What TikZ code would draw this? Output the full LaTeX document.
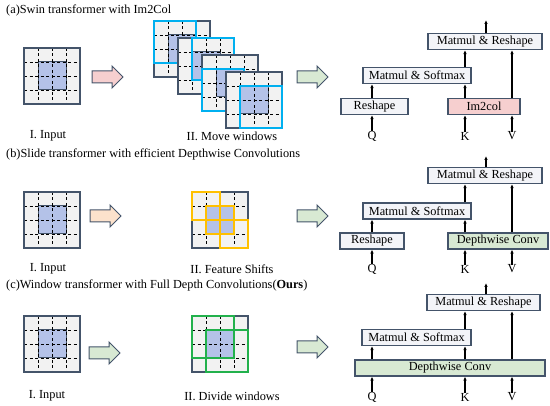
\documentclass[tikz,border=0pt]{standalone}
\usepackage{fontspec}
\setmainfont{Liberation Serif}
\usetikzlibrary{arrows.meta}
\definecolor{navy}{HTML}{44546A}
\definecolor{cellgray}{HTML}{F2F2F2}
\definecolor{bluefill}{HTML}{B4C2E8}
\definecolor{cyanw}{HTML}{00B0F0}
\definecolor{yelw}{HTML}{FFC000}
\definecolor{grnw}{HTML}{22B14C}
\definecolor{boxfill}{HTML}{F3F4F8}
\definecolor{pinkfill}{HTML}{F6CFCF}
\definecolor{greenfill}{HTML}{D8E9D3}
\definecolor{peachfill}{HTML}{FCE2CC}
\newcommand{\mygrid}[2]{%
  \fill[cellgray] (#1,#2) rectangle ++(56,56);
  \fill[bluefill] ({#1+14},{#2+14}) rectangle ++(28,28);
  \draw[navy,line width=1pt] ({#1+14},{#2+14}) rectangle ++(28,28);
  \foreach \i in {1,2,3}{%
    \draw[black,line width=0.7pt,dash pattern=on 3pt off 2.5pt] ({#1+14*\i},#2) -- ++(0,56);
    \draw[black,line width=0.7pt,dash pattern=on 3pt off 2.5pt] (#1,{#2+14*\i}) -- ++(56,0);
  }
  \draw[navy,line width=1.2pt] (#1,#2) rectangle ++(56,56);
}
\newcommand{\bigarrow}[3]{%
  \draw[navy,line width=1pt,fill=#3] (#1,{#2-6}) -- ({#1+20},{#2-6}) -- ({#1+20},{#2-11}) -- ({#1+31},#2) -- ({#1+20},{#2+11}) -- ({#1+20},{#2+6}) -- (#1,{#2+6}) -- cycle;
}
\tikzset{
  opbox/.style={draw=navy,line width=1.1pt,fill=boxfill,minimum height=16pt,inner sep=0pt,font=\fontsize{12.3}{13}\selectfont},
  lab/.style={font=\fontsize{12.3}{13}\selectfont,inner sep=0pt},
  ttl/.style={font=\fontsize{12.3}{13}\selectfont,inner sep=0pt,anchor=west},
  arr/.style={-{Latex[length=4pt,width=3.5pt]},line width=1.1pt,black},
  win/.style={line width=1.3pt},
}
\begin{document}
\begin{tikzpicture}[x=1pt,y=-1pt]
\useasboundingbox (0,0) rectangle (550,406);
% ---------------- (a)
\node[ttl] (ta) at (6,10) {(a)Swin transformer with Im2Col};
\mygrid{24}{48}
\bigarrow{92}{77}{pinkfill}
\mygrid{154}{21}
\draw[win,cyanw] (154,21) rectangle ++(42,42);
\mygrid{178}{38}
\draw[win,cyanw] (192,38) rectangle ++(42,42);
\mygrid{202}{55}
\draw[win,cyanw] (202,69) rectangle ++(42,42);
\mygrid{226}{72}
\draw[win,cyanw] (240,86) rectangle ++(42,42);
\node[lab] (ia) at (48,136) {I. Input};
\node[lab] (ma) at (232,136) {II. Move windows};
\bigarrow{297}{77}{greenfill}
\node[opbox,minimum width=67pt] (rsa) at (374.5,106.5) {Reshape};
\node[opbox,minimum width=72pt,fill=pinkfill] (ima) at (484,106.5) {Im2col};
\node[opbox,minimum width=108pt] (sma) at (417,75.5) {Matmul \& Softmax};
\node[opbox,minimum width=114pt] (mra) at (485,41.5) {Matmul \& Reshape};
\node[lab] (qa) at (372,136) {Q};
\node[lab] (ka) at (465,136) {K};
\node[lab] (va) at (512,136) {V};
\coordinate (oa) at (486,20);
\draw[arr] (qa) -- (rsa.south -| qa);
\draw[arr] (rsa.north -| qa) -- (sma.south -| qa);
\draw[arr] (ka) -- (ima.south -| ka);
\draw[arr] (va) -- (ima.south -| va);
\draw[arr] (ima.north -| ka) -- (sma.south -| ka);
\draw[arr] (sma.north -| ka) -- (mra.south -| ka);
\draw[arr] (ima.north -| va) -- (mra.south -| va);
\draw[arr] (mra.north -| oa) -- (oa);
% ---------------- (b)
\node[ttl] (tb) at (6,154) {(b)Slide transformer with efficient Depthwise Convolutions};
\mygrid{24}{192}
\bigarrow{90}{216}{peachfill}
\mygrid{192}{192}
\draw[win,yelw] (192,192) rectangle ++(28,28);
\draw[win,yelw] (206,206) rectangle ++(28,28);
\draw[win,yelw] (220,220) rectangle ++(28,28);
\node[lab] (ib) at (48,269) {I. Input};
\node[lab] (fb) at (232,269) {II. Feature Shifts};
\bigarrow{297}{216}{greenfill}
\node[opbox,minimum width=64pt] (rsb) at (372,241) {Reshape};
\node[opbox,minimum width=100pt,fill=greenfill] (dcb) at (498,241) {Depthwise Conv};
\node[opbox,minimum width=108pt] (smb) at (417,211) {Matmul \& Softmax};
\node[opbox,minimum width=114pt] (mrb) at (485,175.5) {Matmul \& Reshape};
\node[lab] (qb) at (372,269) {Q};
\node[lab] (kb) at (465,269) {K};
\node[lab] (vb) at (512,269) {V};
\coordinate (ob) at (486,156);
\draw[arr] (qb) -- (rsb.south -| qb);
\draw[arr] (rsb.north -| qb) -- (smb.south -| qb);
\draw[arr] (kb) -- (dcb.south -| kb);
\draw[arr] (vb) -- (dcb.south -| vb);
\draw[arr] (dcb.north -| kb) -- (smb.south -| kb);
\draw[arr] (smb.north -| kb) -- (mrb.south -| kb);
\draw[arr] (dcb.north -| vb) -- (mrb.south -| vb);
\draw[arr] (mrb.north -| ob) -- (ob);
% ---------------- (c)
\node[ttl] (tc) at (6,285) {(c)Window transformer with Full Depth Convolutions(\textbf{Ours})};
\mygrid{24}{316}
\bigarrow{89}{353}{greenfill}
\mygrid{192}{316}
\draw[win,grnw] (192,316) rectangle ++(42,42);
\draw[win,grnw] (206,330) rectangle ++(42,42);
\node[lab] (ic) at (47,396) {I. Input};
\node[lab] (dc) at (232,396) {II. Divide windows};
\bigarrow{297}{347}{greenfill}
\node[opbox,minimum width=190pt,fill=greenfill] (dcc) at (450,368) {Depthwise Conv};
\node[opbox,minimum width=109pt] (smc) at (416.5,337.5) {Matmul \& Softmax};
\node[opbox,minimum width=113pt] (mrc) at (483.5,302.5) {Matmul \& Reshape};
\node[lab] (qc) at (372,397) {Q};
\node[lab] (kc) at (465,397) {K};
\node[lab] (vc) at (512,397) {V};
\coordinate (oc) at (486,283);
\draw[arr] (qc) -- (dcc.south -| qc);
\draw[arr] (kc) -- (dcc.south -| kc);
\draw[arr] (vc) -- (dcc.south -| vc);
\draw[arr] (dcc.north -| qc) -- (smc.south -| qc);
\draw[arr] (dcc.north -| kc) -- (smc.south -| kc);
\draw[arr] (smc.north -| kc) -- (mrc.south -| kc);
\draw[arr] (dcc.north -| vc) -- (mrc.south -| vc);
\draw[arr] (mrc.north -| oc) -- (oc);
\end{tikzpicture}
\end{document}
